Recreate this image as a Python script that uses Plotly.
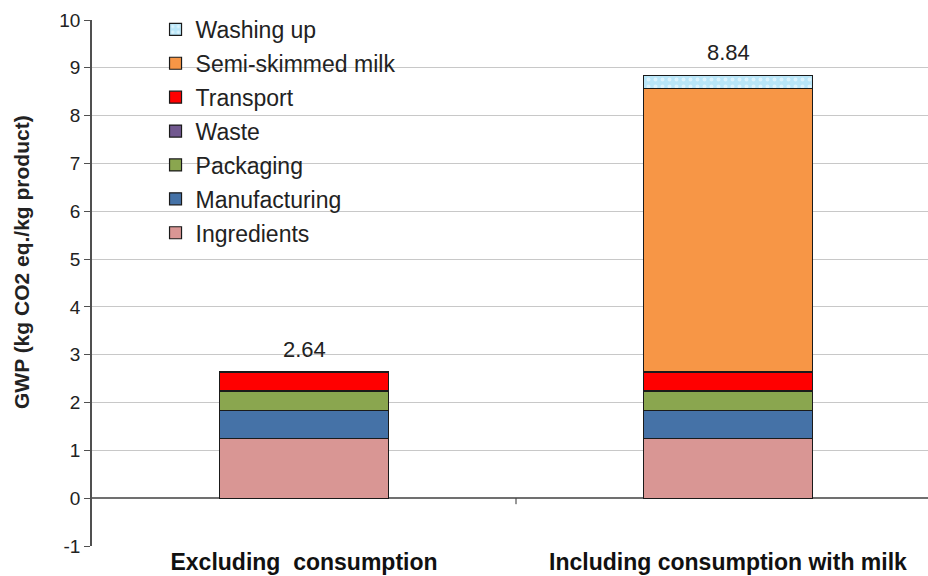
import numpy as np
import plotly.graph_objects as go

# Scenarios on the x axis
scenarios = ["Excluding  consumption", "Including consumption with milk"]

# Life-cycle stage contributions (kg CO2 eq./kg product), bottom to top
ingredients = [1.24, 1.24]
manufacturing = [0.60, 0.60]
packaging = [0.40, 0.40]
waste = [0.01, 0.01]
transport = [0.39, 0.39]
semi_skimmed_milk = [0.0, 5.92]
washing_up = [0.0, 0.28]

y_tick_values = list(range(-1, 11))
y_tick_labels = [str(v) for v in y_tick_values]

stages = [
    ("Ingredients", ingredients, "#d99694"),
    ("Manufacturing", manufacturing, "#4572a7"),
    ("Packaging", packaging, "#8aa64f"),
    ("Waste", waste, "#71588f"),
    ("Transport", transport, "#ff0000"),
    ("Semi-skimmed milk", semi_skimmed_milk, "#f79646"),
    ("Washing up", washing_up, "#b9e6f8"),
]

fig = go.Figure()
n = len(stages)
for i, (name, vals, col) in enumerate(stages):
    marker = dict(color=col, line=dict(color="#1a1a1a", width=1.2))
    if name == "Washing up":
        marker["pattern"] = dict(shape=".", fgcolor="white", bgcolor=col,
                                 size=7, solidity=0.25)
    # empty segments are left out so no outline is drawn for them
    shown = [v if v > 0 else None for v in vals]
    fig.add_trace(go.Bar(
        x=scenarios, y=shown, name=name, marker=marker, width=0.4,
        legendgroup=name, legendrank=n - i, hoverinfo="skip",
    ))

# Total labels above each stacked bar
totals = np.sum([s[1] for s in stages], axis=0)
for cat, tot in zip(scenarios, totals):
    fig.add_annotation(x=cat, y=tot, text=f"{tot:.2f}", showarrow=False,
                       yanchor="bottom", yshift=8,
                       font=dict(family="Liberation Sans, Arial", size=22, color="#222"))

# Vertical axis title
fig.add_annotation(xref="paper", yref="paper", x=-0.0837, y=0.54,
                   text="<b>GWP (kg CO2 eq./kg product)</b>", textangle=-90,
                   showarrow=False, xanchor="center", yanchor="middle",
                   font=dict(family="Liberation Sans, Arial", size=21, color="#222"))

# Small divider tick between the two categories on the zero line
fig.add_shape(type="line", xref="x", yref="y", x0=0.5, x1=0.5, y0=0, y1=-6,
              ysizemode="pixel", yanchor=0, line=dict(color="#333", width=1))

fig.update_layout(
    width=928, height=576,
    margin=dict(l=92, r=0, t=20, b=30),
    barmode="stack",
    plot_bgcolor="white", paper_bgcolor="white",
    font=dict(family="Liberation Sans, Arial", color="#222"),
    legend=dict(
        x=0.076, y=1.023, xanchor="left", yanchor="top",
        traceorder="grouped", tracegroupgap=1,
        font=dict(size=23, color="#222"), itemwidth=30,
        bgcolor="rgba(0,0,0,0)",
    ),
    xaxis=dict(
        type="category", range=[-0.5, 1.4717],
        showgrid=False, showline=False, ticks="",
        tickfont=dict(family="Liberation Sans, Arial", size=23, color="#111"),
        tickprefix="<b>", ticksuffix="</b>",
    ),
    yaxis=dict(
        range=[-1, 10], tickvals=y_tick_values, ticktext=y_tick_labels,
        showgrid=True, gridcolor="#c8c8c8", gridwidth=1,
        zeroline=True, zerolinecolor="#707070", zerolinewidth=2,
        showline=True, linecolor="#505050", linewidth=1.5,
        ticks="outside", ticklen=6, tickcolor="#505050",
        tickfont=dict(size=19, color="#222"),
    ),
)

fig.write_html("out.html")
